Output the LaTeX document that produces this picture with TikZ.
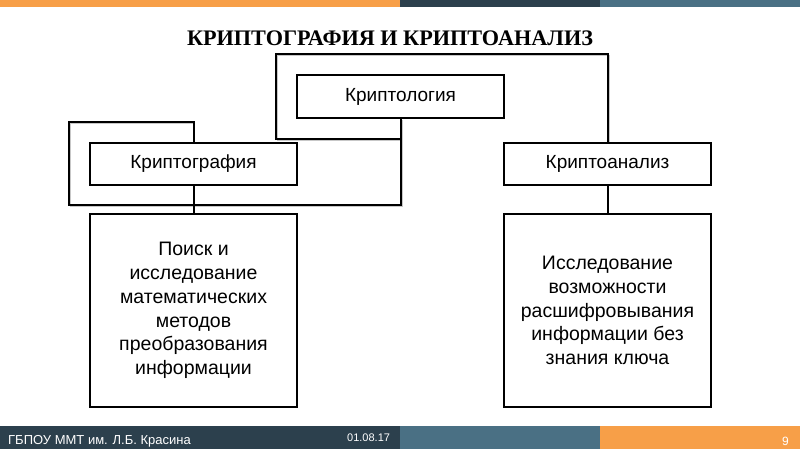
\documentclass[tikz,border=0pt]{standalone}
\usepackage{fontspec}
\setmainfont{Liberation Sans}
\newfontfamily\titlefont{Liberation Serif}
\definecolor{barorange}{HTML}{F79F48}
\definecolor{bardark}{HTML}{2C404D}
\definecolor{barblue}{HTML}{4A7084}
\begin{document}
\begin{tikzpicture}[x=1pt,y=-1pt,
  box/.style={draw=black,line width=2pt,fill=white,inner sep=0pt,align=center,
    minimum width=207pt,font=\fontsize{19}{24}\selectfont},
  bigbox/.style={box,minimum height=193pt,font=\fontsize{19.5}{23.8}\selectfont},
  conn/.style={draw=black,line width=2pt},
  shad/.style={draw=black!22,line width=1.2pt},
  foot/.style={text=white,inner sep=0pt,anchor=west}]
\useasboundingbox (0,0) rectangle (800,450);
\fill[white] (0,0) rectangle (800,450);
% top bar
\fill[barorange] (0,0) rectangle (400,6.5);
\fill[bardark] (400,0) rectangle (600,6.5);
\fill[barblue] (600,0) rectangle (800,6.5);
% footer
\fill[bardark] (0,426) rectangle (400,449);
\fill[barblue] (400,426) rectangle (600,449);
\fill[barorange] (600,426) rectangle (800,449);
\node[foot,font=\fontsize{13}{14}\selectfont] (org) at (8,441) {ГБПОУ ММТ им. Л.Б. Красина};
\node[foot,font=\fontsize{11}{12}\selectfont] (date) at (347,438) {01.08.17};
\node[foot,font=\fontsize{12}{13}\selectfont] (pg) at (782,441) {9};
% title
\node[font=\titlefont\bfseries\fontsize{22.2}{26}\selectfont,inner sep=0pt] (title) at (390,38.5) {КРИПТОГРАФИЯ И КРИПТОАНАЛИЗ};
% nodes
\node[box,minimum height=43pt] (logy) at (400.5,96.5) {Криптология};
\node[box,minimum height=42pt] (graf) at (193.5,164) {Криптография};
\node[box,minimum height=42pt] (anal) at (607.5,164) {Криптоанализ};
\node[bigbox] (lbox) at (193.5,310.5) {Поиск и\\исследование\\математических\\методов\\преобразования\\информации};
\node[bigbox] (rbox) at (607.5,310.5) {Исследование\\возможности\\расшифровывания\\информации без\\знания ключа};
% connectors (shadows)
\begin{scope}[shift={(1.8,1.8)}]
\draw[shad] (400.5,118) -- (400.5,205) -- (69,205) -- (69,122) -- (193.5,122);
\draw[shad] (400.5,139) -- (276,139) -- (276,54) -- (607.5,54) -- (607.5,143);
\end{scope}
\coordinate (c1) at (400.5,205);
\coordinate (c2) at (69,205);
\coordinate (c3) at (69,122);
\coordinate (c4) at (193.5,122);
\coordinate (d0) at (400.5,139);
\coordinate (d1) at (276,139);
\coordinate (d2) at (276,54);
\coordinate (d3) at (607.5,54);
\draw[conn,line join=miter] (logy.south) -- (c1) -- (c2) -- (c3) -- (c4) -- (graf.north);
\draw[conn,line join=miter] (d0) -- (d1) -- (d2) -- (d3) -- (anal.north);
\draw[conn] (graf.south) -- (lbox.north);
\draw[conn] (anal.south) -- (rbox.north);
% redraw boxes on top
\node[box,minimum height=43pt] at (logy) {Криптология};
\node[box,minimum height=42pt] at (graf) {Криптография};
\node[box,minimum height=42pt] at (anal) {Криптоанализ};
\end{tikzpicture}
\end{document}
